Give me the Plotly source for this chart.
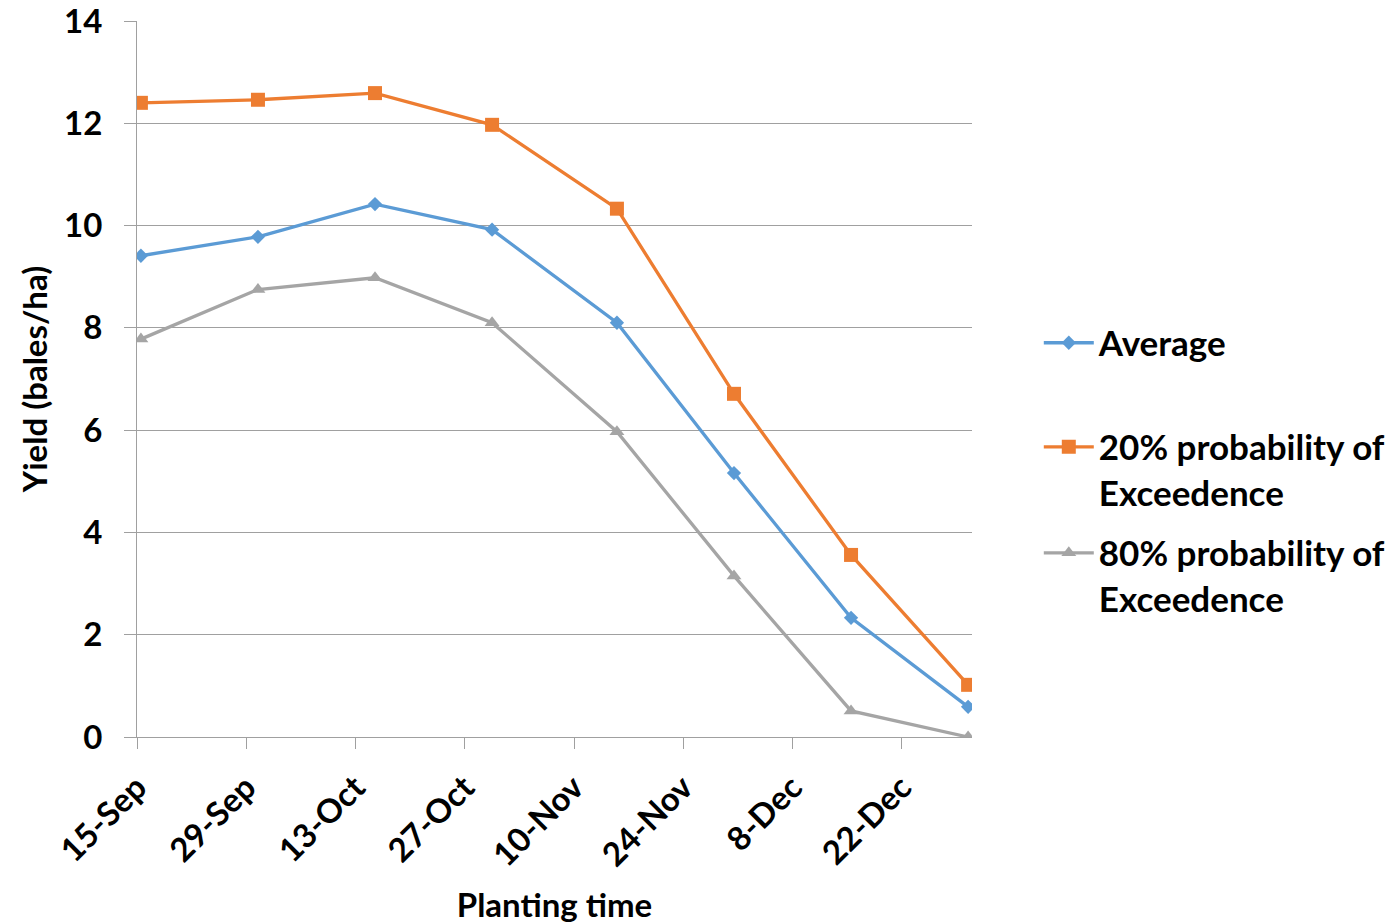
import pandas as pd
import plotly.graph_objects as go

# ---- data ----
planting_dates = ["2015-09-15", "2015-09-30", "2015-10-15", "2015-10-30",
                  "2015-11-15", "2015-11-30", "2015-12-15", "2015-12-30"]
average = [9.41, 9.78, 10.42, 9.92, 8.10, 5.16, 2.33, 0.59]
exceed_20 = [12.40, 12.46, 12.59, 11.97, 10.33, 6.71, 3.56, 1.02]
exceed_80 = [7.78, 8.75, 8.98, 8.10, 5.97, 3.15, 0.51, 0.00]

tick_dates = ["2015-09-15", "2015-09-29", "2015-10-13", "2015-10-27",
              "2015-11-10", "2015-11-24", "2015-12-08", "2015-12-22"]
tick_labels = ["15-Sep", "29-Sep", "13-Oct", "27-Oct",
               "10-Nov", "24-Nov", "8-Dec", "22-Dec"]
y_ticks = [0, 2, 4, 6, 8, 10, 12, 14]

series_names = ["Average", "20% probability of<br>Exceedence", "80% probability of<br>Exceedence"]

# date axis: points sit in the middle of their day (as in a spreadsheet date axis)
x = pd.to_datetime(planting_dates) + pd.Timedelta(hours=12)

FONT = dict(family="Lato", size=33, color="black", weight="bold")
LEG_FONT = dict(family="Lato", size=35, color="black", weight="bold")
GRID = "#A0A0A0"

fig = go.Figure()
fig.add_trace(go.Scatter(
    x=x, y=average, name=series_names[0], mode="lines+markers",
    line=dict(color="#5B9BD5", width=3.3),
    marker=dict(symbol="diamond", size=11, color="#5B9BD5"),
    legend="legend"))
fig.add_trace(go.Scatter(
    x=x, y=exceed_20, name=series_names[1], mode="lines+markers",
    line=dict(color="#ED7D31", width=3.3),
    marker=dict(symbol="square", size=14, color="#ED7D31"),
    legend="legend2"))
fig.add_trace(go.Scatter(
    x=x, y=exceed_80, name=series_names[2], mode="lines+markers",
    line=dict(color="#A5A5A5", width=3.3),
    marker=dict(symbol="triangle-up", size=13, color="#A5A5A5"),
    legend="legend3"))

legend_common = dict(font=LEG_FONT, valign="top", xanchor="left", yanchor="middle",
                     bgcolor="rgba(0,0,0,0)", borderwidth=0, itemwidth=50,
                     itemclick=False, itemdoubleclick=False)

fig.update_layout(
    width=1394, height=924,
    margin=dict(l=137, r=422, t=21, b=187, autoexpand=False),
    paper_bgcolor="white", plot_bgcolor="white",
    font=FONT,
    showlegend=True,
    legend=dict(x=1.080, y=0.5503, **legend_common),
    legend2=dict(x=1.080, y=0.3735, **legend_common),
    legend3=dict(x=1.080, y=0.2255, **legend_common),
    xaxis=dict(
        type="date", range=["2015-09-15", "2015-12-31"],
        tickmode="array", tickvals=tick_dates, ticktext=tick_labels,
        tickangle=-45, ticks="outside", ticklen=11, tickwidth=1, tickcolor=GRID,
        showline=True, linecolor=GRID, linewidth=1,
        showgrid=False, zeroline=False, ticklabelstandoff=6,
        ticklabeloverflow="allow",
        tickfont=FONT,
        title=dict(text="Planting time", font=FONT, standoff=22),
    ),
    yaxis=dict(
        range=[0, 14], tickmode="array", tickvals=y_ticks,
        ticks="outside", ticklen=12, tickwidth=1, tickcolor=GRID,
        showline=True, linecolor=GRID, linewidth=1,
        showgrid=True, gridcolor=GRID, gridwidth=1, zeroline=False,
        ticklabelstandoff=15, ticklabeloverflow="allow", tickfont=FONT,
        title=dict(text="Yield (bales/ha)", font=FONT, standoff=6),
    ),
)

# remove the default page margin so the figure fills the window exactly
fig.write_html("out.html",
               config={"displayModeBar": False},
               post_script="document.body.style.margin='0';document.body.style.overflow='hidden';")
